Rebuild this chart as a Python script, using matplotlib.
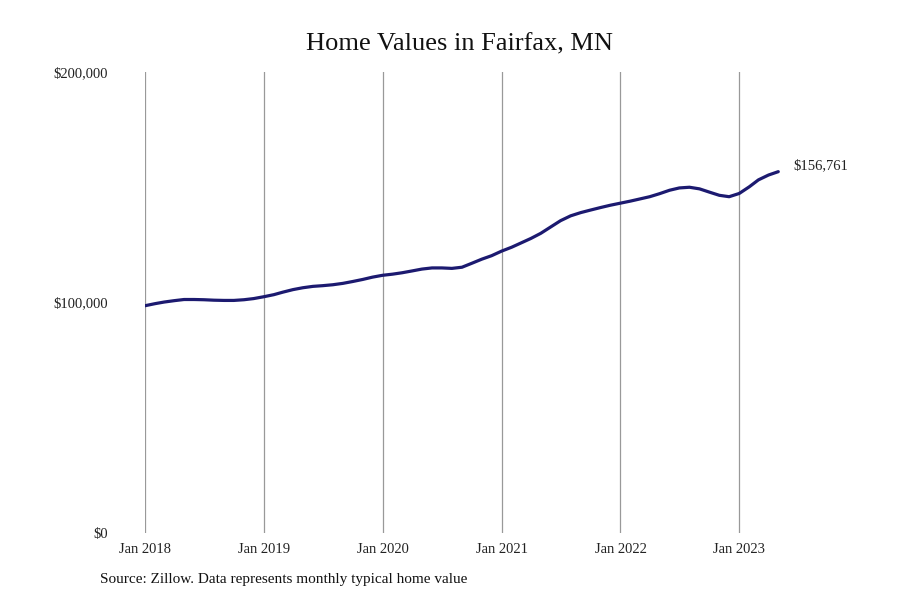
import numpy as np
import pandas as pd
import matplotlib
matplotlib.use("Agg")
import matplotlib.pyplot as plt
import matplotlib.dates as mdates
from matplotlib.ticker import FuncFormatter

# monthly typical home value, Jan 2018 - May 2023
months = pd.date_range("2018-01-01", "2023-05-01", freq="MS")
values = [
    98600, 99500, 100200, 100800, 101300, 101300, 101200, 101000, 100900, 100900, 101200, 101700,
    102500, 103400, 104500, 105600, 106400, 107000, 107300, 107700, 108300, 109100, 110000, 111000,
    111800, 112300, 112900, 113700, 114500, 115000, 115000, 114800, 115300, 117000, 118800, 120300,
    122300, 124000, 125800, 127800, 130000, 132800, 135500, 137600, 139000, 140100, 141200, 142200,
    143100, 144000, 144900, 145900, 147200, 148700, 149700, 150000, 149300, 147900, 146500, 145900,
    147300, 150200, 153200, 155300, 156761,
]
tick_years = [2018, 2019, 2020, 2021, 2022, 2023]
y_ticks = [0, 100000, 200000]

serif = ["Liberation Serif", "DejaVu Serif"]

fig = plt.figure(figsize=(9, 6), dpi=100)
ax = fig.add_axes([145 / 900, 1 - 533 / 600, (858 - 145) / 900, (533 - 72) / 600])

ax.plot(months, values, color="#1c1a70", lw=2.3, solid_capstyle="round")
ax.text(months[-1] + pd.Timedelta(days=45), values[-1] + 2400, f"${values[-1]:,.0f}",
        family=serif, fontsize=10.5, va="center", ha="left", color="#222222")

ax.set_xlim(pd.Timestamp("2018-01-01"), pd.Timestamp("2024-01-01"))
ax.set_ylim(0, 200000)
ax.set_xticks([pd.Timestamp(f"{y}-01-01") for y in tick_years])
ax.xaxis.set_major_formatter(mdates.DateFormatter("Jan %Y"))
ax.set_yticks(y_ticks)
ax.yaxis.set_major_formatter(FuncFormatter(lambda v, p: f"${v:,.0f}"))
ax.grid(axis="x", color="#999999", lw=0.9)
ax.tick_params(length=0, labelsize=10.5, colors="#222222")
ax.tick_params(axis="x", pad=7)
ax.tick_params(axis="y", pad=27)
for lab in ax.get_xticklabels() + ax.get_yticklabels():
    lab.set_family(serif)
for s in ax.spines.values():
    s.set_visible(False)

fig.text(460 / 900, 1 - 44 / 600, "Home Values in Fairfax, MN", family=serif,
         fontsize=19, ha="center", va="center", color="#111111")
fig.text(100 / 900, 1 - 580 / 600, "Source: Zillow. Data represents monthly typical home value",
         family=serif, fontsize=11, ha="left", va="center", color="#111111")

fig.savefig("out.png", dpi=100)
